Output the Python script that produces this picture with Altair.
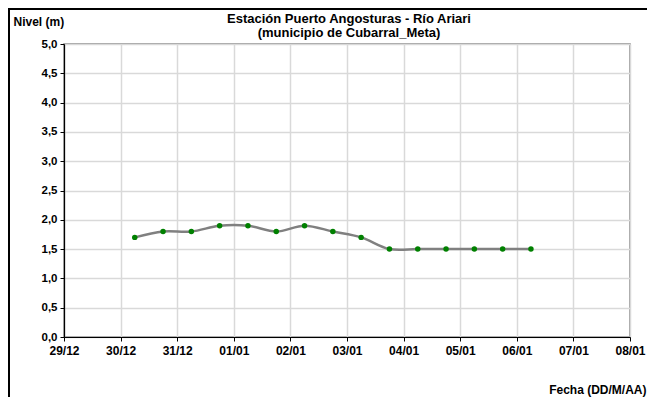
import altair as alt
import pandas as pd

fechas = [
    "2023-12-30T06:00:00", "2023-12-30T18:00:00", "2023-12-31T06:00:00",
    "2023-12-31T18:00:00", "2024-01-01T06:00:00", "2024-01-01T18:00:00",
    "2024-01-02T06:00:00", "2024-01-02T18:00:00", "2024-01-03T06:00:00",
    "2024-01-03T18:00:00", "2024-01-04T06:00:00", "2024-01-04T18:00:00",
    "2024-01-05T06:00:00", "2024-01-05T18:00:00", "2024-01-06T06:00:00",
]
niveles = [1.7, 1.8, 1.8, 1.9, 1.9, 1.8, 1.9, 1.8, 1.7, 1.5, 1.5, 1.5, 1.5, 1.5, 1.5]

dias_eje = [(2023, 12, 29), (2023, 12, 30), (2023, 12, 31), (2024, 1, 1), (2024, 1, 2),
            (2024, 1, 3), (2024, 1, 4), (2024, 1, 5), (2024, 1, 6), (2024, 1, 7), (2024, 1, 8)]
y_ticks = [0, 0.5, 1, 1.5, 2, 2.5, 3, 3.5, 4, 4.5, 5]

titulo = ["Estación Puerto Angosturas - Río Ariari", "(municipio de Cubarral_Meta)"]

df = pd.DataFrame({"fecha": fechas, "nivel": niveles})

FONT = "Liberation Sans"
W, H = 566, 293

x_vals = [alt.DateTime(year=a, month=m, date=d) for a, m, d in dias_eje]

x_enc = alt.X(
    "fecha:T",
    scale=alt.Scale(domain=[x_vals[0], x_vals[-1]]),
    axis=alt.Axis(
        values=x_vals, format="%d/%m", title="Fecha (DD/M/AA)",
        labelFlush=False, labelOverlap=False, labelFontSize=12,
        titleAlign="right", titleX=582, titleY=52, titleBaseline="middle",
    ),
)
y_enc = alt.Y(
    "nivel:Q",
    scale=alt.Scale(domain=[0, 5], nice=False),
    axis=alt.Axis(
        values=y_ticks,
        labelExpr="replace(format(datum.value, '.1f'), '.', ',')",
        title="Nivel (m)", titleAngle=0, titleAlign="left", titleBaseline="middle",
        titleX=-51, titleY=-23,
    ),
)

base = alt.Chart(df)
line = base.mark_line(color="#808080", strokeWidth=2.5, interpolate="catmull-rom").encode(x=x_enc, y=y_enc)
pts = base.mark_circle(color="#008000", size=30, opacity=1).encode(x=x_enc, y=y_enc)

one = pd.DataFrame({"a": [0]})
frame_v = alt.Chart(one).mark_rule(color="black", strokeWidth=2, clip=False).encode(
    x=alt.value(-55), y=alt.value(-35), y2=alt.value(H + 70)
)
frame_h = alt.Chart(one).mark_rule(color="black", strokeWidth=2, clip=False).encode(
    x=alt.value(-56), x2=alt.value(W + 20), y=alt.value(-35)
)

title_df = pd.DataFrame({"t": titulo, "dy": [-25, -11]})
title_marks = alt.Chart(title_df).mark_text(
    font=FONT, fontSize=13, fontWeight="bold", color="black",
    align="center", baseline="middle", clip=False,
).encode(
    text="t:N",
    x=alt.value(285),
    y=alt.Y("dy:Q", scale=None),
)

chart = alt.layer(line, pts, frame_v, frame_h, title_marks).properties(
    width=W, height=H,
    autosize=alt.AutoSizeParams(type="none"),
    padding={"left": 56, "top": 36, "right": 17, "bottom": 60},
).configure_view(
    stroke="#808080", strokeWidth=1.5
).configure_axis(
    labelFont=FONT, labelFontSize=11.5, labelFontWeight="bold", labelColor="black",
    titleFont=FONT, titleFontSize=12, titleFontWeight="bold", titleColor="black",
    domainColor="black", domainWidth=1.2, tickColor="black", tickSize=4,
    gridColor="#d9d9d9", gridWidth=1.5, labelPadding=3,
).configure_axisX(
    labelPadding=4,
)

chart.save("out.html", embed_options={"renderer": "svg", "actions": False})
